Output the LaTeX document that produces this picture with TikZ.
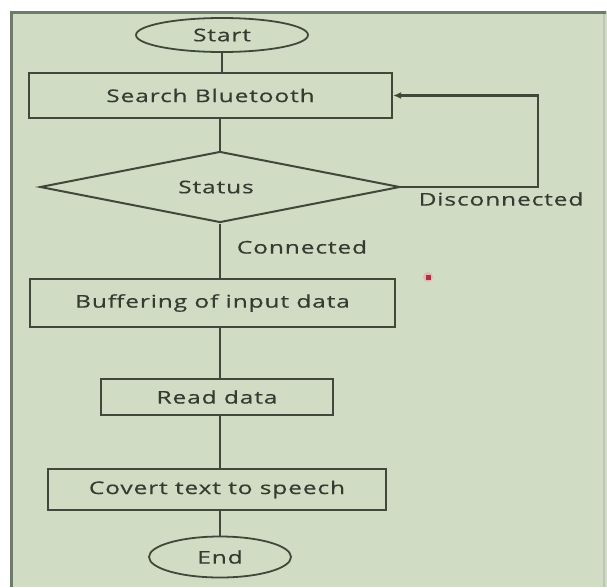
\documentclass[tikz,border=0pt]{standalone}
\usepackage{fontspec}
\usetikzlibrary{shapes.geometric,arrows.meta}
\newfontfamily\flowfont[FakeStretch=1.4,LetterSpace=5,FakeBold=0.5]{Open Sans}
\definecolor{bgc}{HTML}{D0DDC4}
\definecolor{framec}{HTML}{6E7B68}
\definecolor{linec}{HTML}{41483B}
\definecolor{textc}{HTML}{363B31}
\definecolor{dotc}{HTML}{B0303F}
\begin{document}
\begin{tikzpicture}[x=1pt,y=-1pt,
  every node/.style={font=\flowfont\fontsize{17.5}{20}\selectfont, text=textc},
  boxnode/.style={draw=linec, line width=2.3pt, rectangle, inner sep=0pt},
  termnode/.style={draw=linec, line width=1.8pt, ellipse, inner sep=0pt},
  decnode/.style={draw=linec, line width=2pt, diamond, inner sep=0pt},
  conn/.style={draw=linec, line width=2.3pt},
  lbl/.style={inner sep=0pt}
]
\useasboundingbox (0,0) rectangle (607,587);
\fill[white] (0,0) rectangle (607,587);
\fill[bgc] (10,11) rectangle (607,587);
\draw[framec!45, line width=1.5pt] (604,12) -- (604,587);
\draw[framec, line width=3pt] (11.5,587) -- (11.5,12) -- (606,12);

\node[termnode, minimum width=172, minimum height=34] (start) at (222,35) {Start};
\node[boxnode, minimum width=363, minimum height=45] (search) at (210.5,95.5) {Search Bluetooth};
\node[decnode, minimum width=360, minimum height=71, shape aspect=5.07] (status) at (220,187) {};
\node[lbl] (statustxt) at (216,187) {Status};
\node[boxnode, minimum width=365, minimum height=48] (buffer) at (212.5,303) {Buffering of input data};
\node[boxnode, minimum width=232, minimum height=36] (read) at (217,397) {Read data};
\node[boxnode, minimum width=338, minimum height=41] (covert) at (217,489.5) {Covert text to speech};
\node[termnode, minimum width=142, minimum height=41] (end) at (220,557) {End};

\node[lbl] (disc) at (501,199) {Disconnected};
\node[lbl] (connl) at (302,247) {Connected};
\fill[dotc!35] (428,277) circle (5);
\fill[dotc] (425.5,274.5) rectangle (430.5,279.5);

\coordinate (fb) at (538,187);

\draw[conn] (start) -- (start |- search.north);
\draw[conn] (search.south -| status.north) -- (status.north);
\draw[conn] (status.south) -- (status.south |- buffer.north);
\draw[conn] (buffer.south -| status.south) -- (status.south |- read.north);
\draw[conn] (read.south -| status.south) -- (status.south |- covert.north);
\draw[conn] (covert.south -| end.north) -- (end.north);
\draw[conn, -{Latex[length=8pt,width=7pt]}] (status.east) -- (fb) |- (search.east);
\end{tikzpicture}
\end{document}
